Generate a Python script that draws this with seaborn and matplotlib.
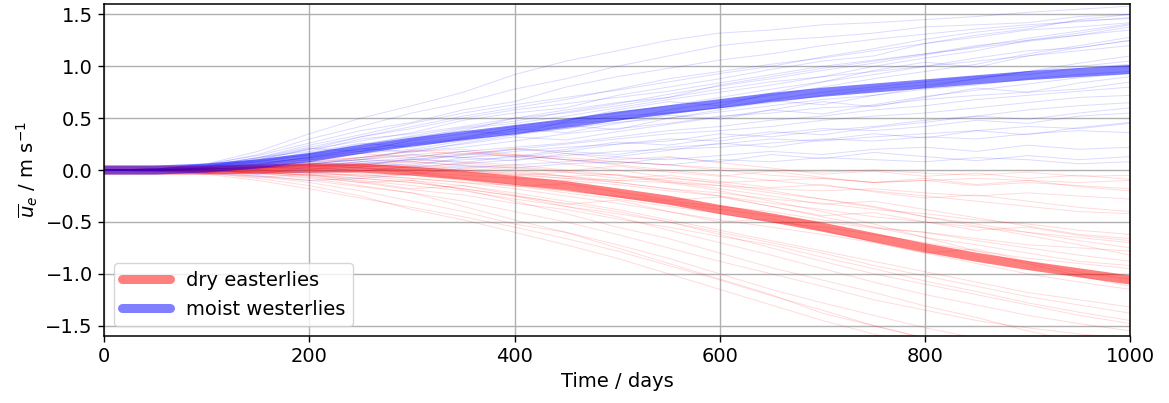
import pandas as pd
import seaborn as sns
import matplotlib
matplotlib.use("Agg")
import matplotlib.pyplot as plt

# time axis (days), sampled every 50 days
days = list(range(0, 1001, 50))

# ensemble means
dry_mean = [0.00, 0.00, 0.00, 0.01, 0.02, 0.02, -0.01, -0.05, -0.10, -0.15, -0.22,
            -0.29, -0.38, -0.46, -0.55, -0.65, -0.75, -0.84, -0.92, -0.99, -1.06]
moist_mean = [0.00, 0.00, 0.02, 0.06, 0.12, 0.20, 0.27, 0.33, 0.39, 0.45, 0.52,
              0.58, 0.64, 0.70, 0.75, 0.79, 0.83, 0.87, 0.91, 0.94, 0.97]

# individual members (approximate)
moist_members = [
    [0, 0.00, 0.03, 0.10, 0.20, 0.28, 0.36, 0.48, 0.55, 0.60, 0.72, 0.80, 0.88, 0.97, 1.05, 1.10, 1.22, 1.30, 1.36, 1.45, 1.50],
    [0, 0.01, 0.06, 0.18, 0.35, 0.50, 0.62, 0.75, 0.92, 1.05, 1.15, 1.25, 1.32, 1.35, 1.40, 1.42, 1.45, 1.48, 1.52, 1.55, 1.58],
    [0, 0.00, 0.02, 0.06, 0.12, 0.18, 0.25, 0.30, 0.38, 0.45, 0.48, 0.58, 0.65, 0.72, 0.80, 0.88, 0.95, 1.02, 1.12, 1.20, 1.28],
    [0, 0.00, 0.01, 0.03, 0.06, 0.10, 0.08, 0.15, 0.20, 0.18, 0.25, 0.30, 0.28, 0.35, 0.40, 0.38, 0.42, 0.48, 0.45, 0.52, 0.55],
    [0, -0.01, -0.03, -0.06, -0.10, -0.08, -0.04, 0.02, 0.05, 0.08, 0.12, 0.10, 0.14, 0.18, 0.15, 0.20, 0.22, 0.18, 0.24, 0.20, 0.22],
    [0, 0.01, 0.04, 0.12, 0.18, 0.30, 0.35, 0.42, 0.50, 0.58, 0.65, 0.70, 0.78, 0.85, 0.90, 0.95, 1.00, 1.08, 1.15, 1.18, 1.25],
    [0, 0.00, 0.02, 0.08, 0.15, 0.22, 0.30, 0.40, 0.45, 0.52, 0.60, 0.68, 0.75, 0.82, 0.90, 1.00, 1.08, 1.15, 1.25, 1.32, 1.40],
    [0, 0.00, -0.01, 0.02, 0.05, 0.12, 0.18, 0.22, 0.28, 0.35, 0.40, 0.45, 0.52, 0.55, 0.60, 0.62, 0.68, 0.72, 0.75, 0.78, 0.85],
    [0, 0.01, 0.03, 0.09, 0.16, 0.25, 0.32, 0.38, 0.50, 0.55, 0.62, 0.70, 0.82, 0.90, 0.98, 1.05, 1.12, 1.20, 1.25, 1.30, 1.35],
    [0, 0.00, 0.00, -0.02, 0.00, 0.03, 0.06, 0.10, 0.12, 0.18, 0.15, 0.22, 0.25, 0.30, 0.28, 0.32, 0.35, 0.38, 0.42, 0.40, 0.45],
    [0, 0.00, 0.02, 0.05, 0.10, 0.16, 0.20, 0.28, 0.35, 0.40, 0.48, 0.55, 0.60, 0.65, 0.72, 0.78, 0.82, 0.88, 0.95, 1.00, 1.05],
    [0, 0.01, 0.05, 0.15, 0.30, 0.42, 0.55, 0.65, 0.78, 0.88, 1.00, 1.10, 1.20, 1.25, 1.28, 1.32, 1.38, 1.40, 1.42, 1.48, 1.50],
    [0, 0.00, 0.01, 0.04, 0.08, 0.10, 0.15, 0.12, 0.18, 0.22, 0.25, 0.28, 0.35, 0.32, 0.38, 0.42, 0.48, 0.52, 0.58, 0.62, 0.65],
    [0, 0.00, -0.02, -0.04, -0.02, 0.02, 0.00, 0.04, 0.02, 0.06, 0.08, 0.05, 0.10, 0.08, 0.12, 0.10, 0.08, 0.12, 0.10, 0.06, 0.08],
    [0, 0.01, 0.03, 0.08, 0.14, 0.20, 0.28, 0.35, 0.42, 0.48, 0.55, 0.62, 0.70, 0.78, 0.85, 0.92, 1.00, 1.05, 1.10, 1.15, 1.20],
    [0, 0.00, 0.02, 0.06, 0.12, 0.20, 0.26, 0.32, 0.40, 0.46, 0.52, 0.55, 0.60, 0.68, 0.75, 0.80, 0.85, 0.90, 0.92, 0.98, 1.02],
    [0, 0.01, 0.04, 0.10, 0.20, 0.32, 0.42, 0.52, 0.60, 0.68, 0.78, 0.88, 0.95, 1.02, 1.08, 1.15, 1.22, 1.28, 1.35, 1.38, 1.42],
    [0, 0.00, 0.00, 0.02, 0.04, 0.06, 0.10, 0.14, 0.20, 0.25, 0.30, 0.35, 0.38, 0.42, 0.48, 0.52, 0.55, 0.60, 0.65, 0.70, 0.72],
    [0, 0.00, 0.01, 0.00, -0.03, -0.01, 0.03, 0.06, 0.10, 0.14, 0.18, 0.20, 0.22, 0.26, 0.30, 0.28, 0.32, 0.30, 0.35, 0.38, 0.36],
    [0, 0.01, 0.05, 0.12, 0.22, 0.32, 0.40, 0.50, 0.58, 0.64, 0.70, 0.76, 0.84, 0.92, 1.00, 1.06, 1.12, 1.18, 1.24, 1.30, 1.38],
    [0, 0.00, 0.02, 0.07, 0.12, 0.18, 0.24, 0.30, 0.34, 0.40, 0.46, 0.50, 0.56, 0.62, 0.68, 0.72, 0.78, 0.82, 0.88, 0.92, 0.95],
    [0, 0.00, 0.01, 0.03, 0.05, 0.08, 0.12, 0.18, 0.22, 0.26, 0.32, 0.38, 0.42, 0.48, 0.52, 0.58, 0.62, 0.68, 0.72, 0.76, 0.80],
    [0, 0.01, 0.04, 0.09, 0.17, 0.26, 0.22, 0.31, 0.40, 0.36, 0.45, 0.53, 0.49, 0.58, 0.66, 0.61, 0.70, 0.79, 0.75, 0.84, 0.90],
    [0, 0.00, 0.03, 0.11, 0.21, 0.18, 0.29, 0.38, 0.34, 0.47, 0.58, 0.66, 0.62, 0.74, 0.85, 0.96, 1.04, 0.99, 1.10, 1.18, 1.25],
    [0, -0.01, 0.01, -0.04, 0.03, 0.08, 0.04, 0.12, 0.09, 0.16, 0.13, 0.19, 0.26, 0.22, 0.29, 0.35, 0.31, 0.38, 0.34, 0.41, 0.46],
    [0, 0.01, 0.06, 0.14, 0.26, 0.38, 0.46, 0.58, 0.66, 0.80, 0.90, 0.98, 1.06, 1.12, 1.20, 1.26, 1.31, 1.36, 1.40, 1.43, 1.47],
    [0, 0.00, 0.02, 0.01, 0.07, 0.04, 0.11, 0.07, 0.14, 0.10, 0.06, 0.12, 0.08, 0.15, 0.11, 0.17, 0.13, 0.09, 0.14, 0.10, 0.13],
    [0, 0.00, 0.02, 0.05, 0.13, 0.21, 0.17, 0.26, 0.34, 0.43, 0.39, 0.50, 0.58, 0.67, 0.63, 0.72, 0.80, 0.88, 0.95, 1.03, 1.10],
    [0, 0.01, 0.04, 0.12, 0.24, 0.34, 0.45, 0.55, 0.63, 0.70, 0.77, 0.85, 0.93, 1.00, 1.09, 1.17, 1.26, 1.33, 1.38, 1.44, 1.46],
    [0, 0.00, 0.01, 0.03, 0.01, 0.05, 0.10, 0.16, 0.13, 0.20, 0.27, 0.24, 0.31, 0.37, 0.34, 0.41, 0.46, 0.52, 0.49, 0.55, 0.60],
    [0, 0.00, -0.02, 0.02, 0.06, 0.10, 0.19, 0.25, 0.32, 0.29, 0.37, 0.44, 0.51, 0.58, 0.54, 0.63, 0.71, 0.77, 0.83, 0.89, 0.93],
    [0, 0.01, 0.03, 0.08, 0.15, 0.24, 0.33, 0.41, 0.47, 0.56, 0.64, 0.73, 0.81, 0.88, 0.96, 1.03, 1.11, 1.19, 1.27, 1.34, 1.41],
]

dry_members = [
    [0, 0.00, 0.01, 0.03, 0.06, 0.10, 0.14, 0.12, 0.15, 0.10, 0.08, 0.05, 0.02, 0.00, -0.02, 0.00, -0.03, -0.05, -0.02, -0.06, -0.05],
    [0, 0.00, -0.02, -0.06, -0.12, -0.20, -0.30, -0.40, -0.52, -0.60, -0.72, -0.85, -1.00, -1.15, -1.28, -1.40, -1.52, -1.62, -1.70, -1.75, -1.80],
    [0, 0.00, 0.01, 0.02, 0.00, -0.03, -0.05, -0.10, -0.15, -0.22, -0.28, -0.35, -0.42, -0.50, -0.55, -0.62, -0.70, -0.78, -0.85, -0.90, -0.95],
    [0, 0.00, -0.01, -0.03, -0.08, -0.15, -0.22, -0.35, -0.48, -0.60, -0.75, -0.90, -1.05, -1.20, -1.38, -1.50, -1.62, -1.70, -1.78, -1.85, -1.90],
    [0, 0.01, 0.02, 0.05, 0.10, 0.12, 0.15, 0.18, 0.14, 0.10, 0.05, 0.00, -0.05, -0.10, -0.15, -0.20, -0.25, -0.30, -0.35, -0.40, -0.42],
    [0, 0.00, 0.00, -0.02, -0.05, -0.04, -0.08, -0.12, -0.18, -0.25, -0.32, -0.40, -0.48, -0.55, -0.62, -0.70, -0.80, -0.90, -1.00, -1.08, -1.15],
    [0, 0.00, 0.01, 0.03, 0.05, 0.04, 0.02, 0.00, -0.04, -0.08, -0.12, -0.18, -0.22, -0.28, -0.32, -0.38, -0.42, -0.48, -0.52, -0.58, -0.62],
    [0, 0.00, -0.01, -0.02, -0.04, -0.08, -0.12, -0.18, -0.25, -0.35, -0.45, -0.58, -0.70, -0.82, -0.95, -1.08, -1.20, -1.30, -1.40, -1.48, -1.55],
    [0, 0.00, 0.00, 0.01, 0.03, 0.06, 0.08, 0.05, 0.02, -0.02, -0.05, -0.10, -0.15, -0.22, -0.28, -0.35, -0.45, -0.52, -0.60, -0.68, -0.75],
    [0, -0.01, -0.03, -0.08, -0.15, -0.25, -0.38, -0.48, -0.60, -0.72, -0.85, -1.00, -1.15, -1.30, -1.45, -1.58, -1.68, -1.75, -1.80, -1.85, -1.90],
    [0, 0.00, 0.01, 0.02, 0.04, 0.02, 0.00, -0.02, -0.05, -0.08, -0.10, -0.12, -0.15, -0.18, -0.20, -0.18, -0.22, -0.25, -0.22, -0.25, -0.28],
    [0, 0.00, 0.00, -0.01, -0.03, -0.06, -0.10, -0.15, -0.22, -0.30, -0.38, -0.48, -0.58, -0.68, -0.78, -0.88, -0.98, -1.08, -1.18, -1.25, -1.32],
    [0, 0.00, 0.02, 0.04, 0.08, 0.12, 0.18, 0.20, 0.15, 0.12, 0.08, 0.05, 0.00, -0.05, -0.08, -0.12, -0.10, -0.15, -0.12, -0.15, -0.18],
    [0, 0.00, -0.01, -0.03, -0.05, -0.10, -0.15, -0.20, -0.28, -0.35, -0.42, -0.50, -0.60, -0.70, -0.80, -0.92, -1.02, -1.12, -1.22, -1.30, -1.38],
    [0, 0.00, 0.01, 0.00, -0.02, -0.05, -0.08, -0.12, -0.15, -0.20, -0.25, -0.30, -0.35, -0.40, -0.48, -0.55, -0.60, -0.68, -0.75, -0.82, -0.88],
    [0, 0.00, 0.00, 0.02, 0.04, 0.08, 0.10, 0.08, 0.05, 0.00, -0.05, -0.12, -0.20, -0.30, -0.40, -0.52, -0.65, -0.78, -0.90, -1.02, -1.12],
    [0, 0.00, -0.02, -0.05, -0.10, -0.16, -0.22, -0.30, -0.40, -0.50, -0.62, -0.75, -0.88, -1.00, -1.12, -1.25, -1.35, -1.45, -1.52, -1.58, -1.62],
    [0, 0.00, 0.00, 0.01, 0.02, 0.00, -0.02, -0.05, -0.08, -0.10, -0.14, -0.20, -0.25, -0.32, -0.38, -0.45, -0.50, -0.55, -0.60, -0.65, -0.70],
    [0, 0.00, 0.01, 0.02, 0.03, 0.05, 0.03, 0.00, -0.03, -0.06, -0.10, -0.08, -0.12, -0.10, -0.08, -0.12, -0.10, -0.08, -0.10, -0.12, -0.10],
    [0, 0.00, -0.01, -0.02, -0.05, -0.08, -0.12, -0.18, -0.25, -0.32, -0.40, -0.50, -0.62, -0.75, -0.88, -1.00, -1.10, -1.20, -1.30, -1.40, -1.48],
    [0, 0.00, 0.00, 0.00, 0.01, 0.03, 0.05, 0.02, -0.02, -0.06, -0.12, -0.18, -0.25, -0.35, -0.45, -0.55, -0.65, -0.72, -0.80, -0.88, -0.92],
    [0, 0.00, 0.01, 0.03, 0.05, 0.02, -0.02, -0.08, -0.14, -0.20, -0.26, -0.32, -0.38, -0.44, -0.50, -0.56, -0.60, -0.66, -0.72, -0.75, -0.78],
    [0, 0.00, 0.01, 0.04, 0.01, 0.06, 0.02, 0.07, 0.03, -0.01, 0.04, -0.02, -0.06, -0.01, -0.07, -0.12, -0.08, -0.14, -0.10, -0.16, -0.20],
    [0, -0.01, -0.03, -0.07, -0.04, -0.11, -0.18, -0.15, -0.24, -0.33, -0.29, -0.40, -0.50, -0.47, -0.58, -0.69, -0.80, -0.76, -0.88, -0.99, -1.05],
    [0, 0.00, 0.02, 0.06, 0.11, 0.16, 0.12, 0.18, 0.13, 0.06, 0.00, -0.07, -0.13, -0.20, -0.28, -0.36, -0.45, -0.54, -0.63, -0.72, -0.82],
    [0, 0.00, -0.02, -0.01, -0.06, -0.12, -0.10, -0.19, -0.30, -0.42, -0.55, -0.66, -0.80, -0.94, -1.06, -1.18, -1.31, -1.42, -1.55, -1.66, -1.75],
    [0, 0.01, 0.02, 0.00, 0.03, -0.01, 0.04, 0.00, -0.05, -0.02, -0.08, -0.05, -0.11, -0.17, -0.14, -0.21, -0.27, -0.24, -0.30, -0.36, -0.40],
    [0, 0.00, 0.00, -0.03, -0.07, -0.12, -0.19, -0.24, -0.32, -0.38, -0.47, -0.55, -0.64, -0.72, -0.84, -0.95, -1.07, -1.17, -1.28, -1.37, -1.45],
    [0, 0.00, 0.01, 0.03, 0.07, 0.12, 0.19, 0.15, 0.21, 0.16, 0.10, 0.13, 0.07, 0.02, -0.04, -0.01, -0.06, -0.03, -0.08, -0.05, -0.09],
    [0, 0.00, -0.01, 0.01, -0.02, -0.06, -0.03, -0.09, -0.16, -0.13, -0.21, -0.29, -0.26, -0.35, -0.44, -0.41, -0.50, -0.58, -0.55, -0.63, -0.68],
    [0, -0.01, -0.04, -0.10, -0.18, -0.27, -0.36, -0.45, -0.55, -0.66, -0.78, -0.92, -1.06, -1.21, -1.35, -1.50, -1.62, -1.72, -1.80, -1.86, -1.92],
    [0, 0.00, 0.01, 0.02, 0.05, 0.03, 0.08, 0.04, 0.00, -0.06, -0.04, -0.11, -0.18, -0.25, -0.33, -0.30, -0.38, -0.46, -0.54, -0.62, -0.66],
]


def members_frame(members):
    rows = []
    for i, m in enumerate(members):
        for t, v in zip(days, m):
            rows.append({"member": i, "day": t, "u": v})
    return pd.DataFrame(rows)


sns.set_style("ticks")
plt.rcParams["font.family"] = ["DejaVu Sans"]
plt.rcParams["font.size"] = 14
plt.rcParams["text.color"] = "black"
plt.rcParams["axes.labelcolor"] = "black"
plt.rcParams["xtick.color"] = "black"
plt.rcParams["ytick.color"] = "black"
plt.rcParams["axes.edgecolor"] = "black"

fig, ax = plt.subplots(figsize=(11.69, 4.03), dpi=100)
fig.subplots_adjust(left=0.089, right=0.967, top=0.990, bottom=0.166)

sns.lineplot(data=members_frame(dry_members), x="day", y="u", units="member",
             estimator=None, color="red", alpha=0.14, lw=0.7, ax=ax)
sns.lineplot(data=members_frame(moist_members), x="day", y="u", units="member",
             estimator=None, color="blue", alpha=0.14, lw=0.7, ax=ax)
sns.lineplot(x=days, y=dry_mean, color="red", alpha=0.5, lw=6.5,
             label="dry easterlies", ax=ax)
sns.lineplot(x=days, y=moist_mean, color="blue", alpha=0.5, lw=6.5,
             label="moist westerlies", ax=ax)

ax.set_xlim(0, 1000)
ax.set_ylim(-1.6, 1.6)
ax.set_xticks([0, 200, 400, 600, 800, 1000])
ax.set_yticks([-1.5, -1.0, -0.5, 0.0, 0.5, 1.0, 1.5])
ax.grid(True, color="#b0b0b0", lw=1.0)
ax.set_xlabel("Time / days", fontsize=14)
ax.set_ylabel(r"$\overline{u}_e$ / m s$^{-1}$", fontsize=14)
ax.tick_params(labelsize=14, length=4.5, width=1.0)
for s in ax.spines.values():
    s.set_linewidth(1.1)
ax.legend(loc="lower left", fontsize=14, handlelength=2.5)

fig.savefig("out.png", dpi=100)
